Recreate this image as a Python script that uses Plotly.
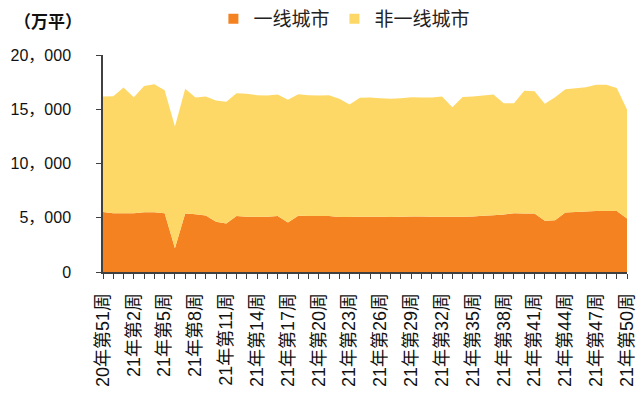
import plotly.graph_objects as go

# Weekly transaction area (10k m²), week 51 of 2020 through week 50 of 2021
weeks = ["20年第51周", "20年第52周"] + [f"21年第{i}周" for i in range(1, 51)]

tier1 = [5540, 5420, 5420, 5420, 5510, 5510, 5420, 2200, 5390, 5330,
         5210, 4620, 4470, 5150, 5100, 5100, 5100, 5150, 4560, 5180,
         5150, 5150, 5150, 5080, 5080, 5100, 5100, 5100, 5080, 5100,
         5120, 5120, 5100, 5100, 5100, 5100, 5120, 5180, 5240, 5300,
         5420, 5390, 5390, 4720, 4780, 5490, 5540, 5570, 5630, 5630,
         5630, 4930]

non_tier1 = [10640, 10780, 11580, 10680, 11640, 11790, 11330, 11200, 11490, 10750,
             10960, 11180, 11210, 11330, 11320, 11200, 11170, 11210, 11310, 11210,
             11150, 11120, 11150, 10880, 10360, 10950, 10980, 10920, 10880, 10920,
             10990, 10960, 10980, 11070, 10090, 11040, 11050, 11090, 11120, 10260,
             10140, 11310, 11280, 10780, 11330, 11360, 11400, 11460, 11620, 11620,
             11340, 10050]

series_names = ["一线城市", "非一线城市"]
colors = ["#F58220", "#FED866"]

y_ticks = [0, 5000, 10000, 15000, 20000]
y_ticktext = ["0", "5，000", "10，000", "15，000", "20，000"]

x = list(range(len(weeks)))
x_ticktext = [w if i % 3 == 0 else "" for i, w in enumerate(weeks)]

LAT = "Liberation Sans, Arial, Noto Sans CJK SC"
CJK = "Noto Sans CJK SC, Liberation Sans"

fig = go.Figure()
for name, vals, col in zip(series_names, [tier1, non_tier1], colors):
    fig.add_trace(go.Scatter(
        x=x, y=vals, name=name, stackgroup="one", mode="none",
        fillcolor=col, line=dict(width=0), showlegend=False,
        hovertext=weeks,
    ))
    # square swatch for the legend
    fig.add_trace(go.Scatter(
        x=[None], y=[None], name=name, mode="markers",
        marker=dict(symbol="square", size=10, color=col),
    ))

fig.update_layout(
    width=637, height=396,
    margin=dict(l=103, r=10, t=55, b=124, autoexpand=False),
    paper_bgcolor="white", plot_bgcolor="white",
    showlegend=True,
    legend=dict(
        orientation="h", traceorder="normal",
        xref="container", x=0.335, xanchor="left",
        yref="container", y=0.952, yanchor="middle",
        font=dict(family=CJK, size=19, color="#222222"),
        itemwidth=30, tracegroupgap=0, bgcolor="rgba(0,0,0,0)",
    ),
    xaxis=dict(
        range=[0, len(weeks) - 1], tickmode="array", tickvals=x, ticktext=x_ticktext,
        tickangle=-90, ticks="outside", ticklen=5, tickwidth=1, tickcolor="#404040",
        showline=True, linecolor="#404040", linewidth=1.5,
        showgrid=False, zeroline=False,
        tickfont=dict(family=LAT, size=18, color="#111111"),
        ticklabelstandoff=7,
    ),
    yaxis=dict(
        range=[0, 20000], tickmode="array", tickvals=y_ticks, ticktext=y_ticktext,
        ticks="outside", ticklen=5, tickwidth=1, tickcolor="#404040",
        showline=True, linecolor="#404040", linewidth=1.5,
        showgrid=False, zeroline=False,
        tickfont=dict(family=LAT, size=16, color="#111111"),
        ticklabelstandoff=22,
    ),
    annotations=[dict(
        text="<b>（万平）</b>", xref="paper", yref="paper",
        x=-0.174, y=1.161, xanchor="left", yanchor="middle", showarrow=False,
        font=dict(family=CJK, size=17, color="#111111"),
    )],
)

fig.write_html("out.html")
